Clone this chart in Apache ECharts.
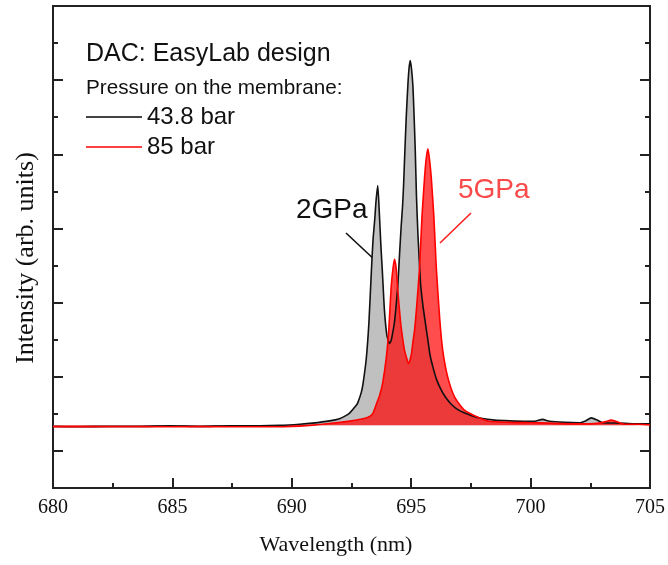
<!DOCTYPE html>
<html>
<head>
<meta charset="utf-8">
<script src="https://cdn.jsdelivr.net/npm/echarts@6/dist/echarts.min.js"></script>
<style>
  html, body { margin: 0; padding: 0; background: #fff; }
  #chart { width: 668px; height: 565px; }
</style>
</head>
<body>
<div id="chart"></div>
<script>
// Ruby fluorescence spectra (R1/R2 lines) at two membrane pressures
const blackWl = [680.00, 681.12, 682.37, 683.63, 684.88, 686.14, 687.40, 688.65, 689.49, 690.33,
  690.87, 691.58, 692.00, 692.28, 692.42, 692.70, 692.77, 692.91, 692.98, 693.12,
  693.23, 693.33, 693.40, 693.47, 693.53, 693.60, 693.67, 693.73, 693.79, 693.88,
  693.98, 694.05, 694.09, 694.16, 694.22, 694.30, 694.37, 694.44, 694.51, 694.58,
  694.64, 694.68, 694.72, 694.79, 694.86, 694.91, 694.96, 695.01, 695.07, 695.12,
  695.17, 695.22, 695.28, 695.39, 695.48, 695.56, 695.70, 695.79, 695.91, 696.06,
  696.26, 696.44, 696.68, 696.94, 697.24, 697.53, 697.93, 698.49, 699.12, 699.75,
  700.17, 700.50, 700.79, 701.42, 702.05, 702.30, 702.54, 702.76, 703.01, 703.72,
  704.35, 705.00];
const blackInt = [1.66, 1.65, 1.66, 1.66, 1.68, 1.66, 1.68, 1.68, 1.69, 1.72,
  1.75, 1.81, 1.87, 1.96, 2.02, 2.23, 2.31, 2.58, 2.80, 3.50,
  4.47, 5.82, 6.68, 7.22, 7.76, 8.16, 7.35, 6.55, 5.87, 4.79,
  4.12, 3.96, 3.90, 3.98, 4.17, 4.47, 4.93, 5.47, 6.28, 7.06,
  7.62, 8.16, 8.84, 9.97, 10.86, 11.32, 11.53, 11.32, 10.86, 10.05,
  9.11, 7.89, 6.87, 5.52, 4.98, 4.60, 3.98, 3.58, 3.26, 2.93,
  2.64, 2.45, 2.26, 2.12, 2.02, 1.95, 1.88, 1.83, 1.81, 1.80,
  1.80, 1.85, 1.80, 1.77, 1.76, 1.81, 1.89, 1.84, 1.76, 1.75,
  1.73, 1.73];

const redWl = [680.00, 681.95, 684.05, 686.14, 688.23, 689.49, 690.75, 691.58, 692.28, 692.98,
  693.26, 693.40, 693.54, 693.68, 693.81, 693.96, 694.06, 694.16, 694.24, 694.30,
  694.37, 694.44, 694.51, 694.58, 694.72, 694.81, 694.89, 695.00, 695.07, 695.14,
  695.24, 695.35, 695.45, 695.56, 695.63, 695.70, 695.77, 695.84, 695.95, 696.05,
  696.19, 696.32, 696.53, 696.82, 697.23, 697.79, 698.28, 699.12, 699.95, 700.79,
  701.63, 702.47, 702.88, 703.14, 703.37, 703.60, 703.93, 704.56, 705.00];
const redInt = [1.65, 1.65, 1.65, 1.65, 1.65, 1.65, 1.69, 1.74, 1.79, 1.87,
  1.93, 2.02, 2.26, 2.50, 2.85, 3.53, 4.25, 5.41, 5.93, 6.17,
  5.93, 5.33, 4.79, 4.33, 3.71, 3.50, 3.35, 3.58, 3.93, 4.25,
  4.98, 5.95, 7.30, 8.38, 8.89, 9.15, 8.84, 8.38, 7.30, 5.95,
  4.60, 3.71, 2.99, 2.45, 2.10, 1.91, 1.80, 1.77, 1.76, 1.75,
  1.73, 1.73, 1.75, 1.79, 1.83, 1.79, 1.72, 1.72, 1.70];

const seriesNames = ['43.8 bar', '85 bar'];
const xMajorTicks = [680, 685, 690, 695, 700, 705];
const xMinorTicks = [682.5, 687.5, 692.5, 697.5, 702.5];
const yMajorTicks = [1, 3, 5, 7, 9, 11];
const yMinorTicks = [2, 4, 6, 8, 10, 12];
const fillBase = 1.69;   // level the peak fills are drawn down to

const pairs = (xs, ys) => xs.map((x, i) => [x, ys[i]]);

const serif = '"Liberation Serif", "Times New Roman", serif';
const sans = '"Liberation Sans", Arial, Helvetica, sans-serif';
const ink = '#222';

function frameY(pos, ticks, len) {
  return {
    type: 'value', position: pos, min: 0, max: 13,
    axisLine: { show: true, lineStyle: { color: ink, width: 2 } },
    axisTick: { show: true, inside: true, length: len, customValues: ticks,
                lineStyle: { color: ink, width: 2 } },
    axisLabel: { show: false }, splitLine: { show: false }
  };
}

function frameX(pos, ticks, len, labels) {
  return {
    type: 'value', position: pos, min: 680, max: 705,
    axisLine: { show: true, onZero: false, lineStyle: { color: ink, width: 2 } },
    axisTick: { show: len > 0, inside: true, length: len, customValues: ticks,
                lineStyle: { color: ink, width: 2 } },
    axisLabel: labels
      ? { show: true, fontFamily: serif, fontSize: 20, color: '#111', margin: 10, customValues: ticks }
      : { show: false },
    splitLine: { show: false }
  };
}

const chart = echarts.init(document.getElementById('chart'), null, { renderer: 'canvas' });

chart.setOption({
  animation: false,
  backgroundColor: '#fff',
  grid: { left: 53, right: 18, top: 6, bottom: 77, containLabel: false },
  xAxis: [
    frameX('bottom', xMajorTicks, 10, true),
    frameX('bottom', xMinorTicks, 5, false),
    frameX('top', [], 0, false)
  ],
  yAxis: [
    frameY('left', yMajorTicks, 10),
    frameY('left', yMinorTicks, 5),
    frameY('right', yMajorTicks, 10),
    frameY('right', yMinorTicks, 5)
  ],
  legend: {
    orient: 'vertical', left: 86, top: 105, itemGap: 6, padding: 0,
    itemWidth: 56, itemHeight: 2,
    textStyle: { fontFamily: sans, fontSize: 24, color: '#111' },
    data: [
      { name: seriesNames[0], icon: 'rect', itemStyle: { color: '#444' } },
      { name: seriesNames[1], icon: 'rect', itemStyle: { color: '#ff4040' } }
    ]
  },
  graphic: [
    { type: 'text', left: 86, top: 42, style: { text: 'DAC: EasyLab design', font: '25px ' + sans, fill: '#111' } },
    { type: 'text', left: 86, top: 78, style: { text: 'Pressure on the membrane:', font: '20.7px ' + sans, fill: '#111' } },
    { type: 'text', left: 296, top: 196, style: { text: '2GPa', font: '28px ' + sans, fill: '#111' } },
    { type: 'line', shape: { x1: 346, y1: 233, x2: 377, y2: 262 }, style: { stroke: '#111', lineWidth: 1.6 } },
    { type: 'text', left: 458, top: 176, style: { text: '5GPa', font: '28px ' + sans, fill: '#f84a4a' } },
    { type: 'line', shape: { x1: 471, y1: 213, x2: 440, y2: 243 }, style: { stroke: '#f82020', lineWidth: 1.6 } },
    { type: 'text', x: 336, y: 545,
      style: { text: 'Wavelength (nm)', font: '22px ' + serif, fill: '#111', textAlign: 'center', textVerticalAlign: 'middle' } },
    { type: 'text', x: 26, y: 258, rotation: Math.PI / 2,
      style: { text: 'Intensity (arb. units)', font: '26px ' + serif, fill: '#111', textAlign: 'center', textVerticalAlign: 'middle' } }
  ],
  series: [{
    name: seriesNames[0], type: 'line', xAxisIndex: 0, yAxisIndex: 0,
    data: pairs(blackWl, blackInt), showSymbol: false, smooth: 0.2,
    lineStyle: { color: '#111', width: 1.6 },
    itemStyle: { color: '#111' },
    areaStyle: { color: 'rgb(192,192,192)', opacity: 1, origin: fillBase }
  }, {
    name: seriesNames[1], type: 'line', xAxisIndex: 0, yAxisIndex: 0,
    data: pairs(redWl, redInt), showSymbol: false, smooth: 0.2,
    lineStyle: { color: '#ff0000', width: 1.6 },
    itemStyle: { color: '#ff0000' },
    areaStyle: { color: 'rgba(255,0,0,0.7)', opacity: 1, origin: fillBase }
  }]
});
</script>
</body>
</html>
